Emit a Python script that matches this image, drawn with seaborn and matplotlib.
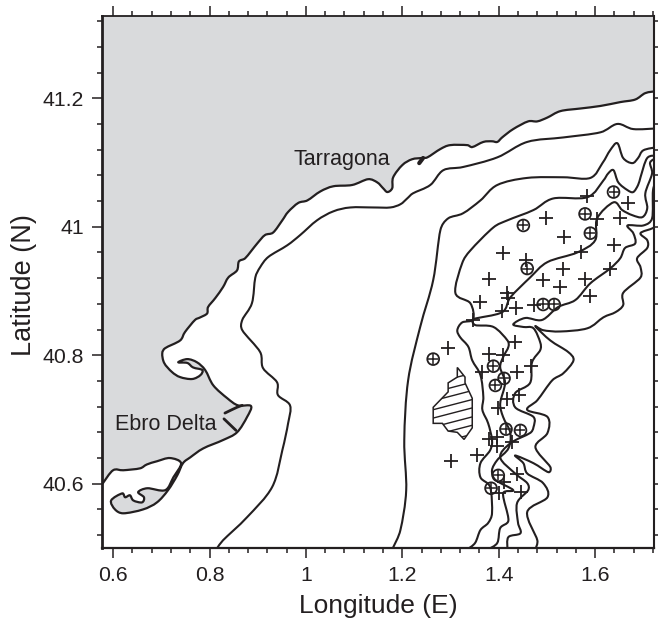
import numpy as np
import matplotlib
matplotlib.use("Agg")
import matplotlib.pyplot as plt
from matplotlib.patches import Polygon
from matplotlib.path import Path
from matplotlib.patheffects import AbstractPathEffect
from matplotlib.transforms import IdentityTransform
from matplotlib.ticker import MultipleLocator, FixedLocator, FixedFormatter
import seaborn as sns

coast_lon = [1.727,1.704,1.683,1.652,1.611,1.569,1.528,1.501,1.480,1.461,1.430,1.407,1.397,1.386,1.368,1.345,1.335,1.299,1.279,1.252,1.241,1.220,1.200,1.181,1.179,1.169,1.160,1.148,1.129,1.096,1.057,1.030,1.003,0.984,0.963,0.951,0.932,0.915,0.899,0.874,0.861,0.857,0.839,0.828,0.812,0.797,0.795,0.781,0.770,0.749,0.739,0.708,0.702,0.706,0.722,0.739,0.764,0.781,0.785,0.766,0.754,0.735,0.754,0.774,0.791,0.808,0.837,0.859,0.886,0.878,0.857,0.828,0.787,0.760,0.745,0.733,0.714,0.691,0.662,0.621,0.604,0.596,0.619,0.625,0.635,0.642,0.660,0.664,0.652,0.671,0.708,0.725,0.741,0.718,0.691,0.670,0.656,0.621,0.600,0.579]
coast_lat = [41.211,41.208,41.198,41.194,41.188,41.184,41.180,41.170,41.164,41.164,41.152,41.139,41.132,41.133,41.132,41.124,41.127,41.127,41.121,41.108,41.107,41.105,41.096,41.077,41.060,41.054,41.060,41.069,41.074,41.065,41.063,41.055,41.041,41.037,41.023,41.010,40.991,40.987,40.974,40.951,40.946,40.932,40.921,40.906,40.889,40.875,40.865,40.859,40.855,40.836,40.823,40.811,40.803,40.788,40.774,40.766,40.763,40.769,40.777,40.781,40.788,40.789,40.794,40.789,40.777,40.753,40.733,40.722,40.721,40.704,40.680,40.668,40.655,40.641,40.632,40.613,40.590,40.571,40.560,40.554,40.560,40.574,40.585,40.579,40.582,40.574,40.571,40.579,40.587,40.593,40.590,40.610,40.632,40.640,40.635,40.630,40.624,40.621,40.621,40.601]

depth1_lon = [0.816,0.828,0.878,0.930,0.951,0.963,0.967,0.942,0.940,0.911,0.905,0.868,0.868,0.888,0.895,0.905,0.922,0.961,0.988,1.023,1.057,1.092,1.140,1.175,1.196,1.210,1.222,1.258,1.285,1.326,1.397,1.459,1.534,1.611,1.646,1.679,1.727]
depth1_lat = [40.500,40.512,40.548,40.595,40.652,40.694,40.722,40.738,40.758,40.780,40.805,40.839,40.855,40.881,40.921,40.937,40.953,40.971,40.987,41.010,41.024,41.030,41.030,41.030,41.035,41.044,41.052,41.065,41.088,41.093,41.108,41.132,41.139,41.147,41.160,41.152,41.153]

depth2_lon = [1.181,1.196,1.208,1.204,1.212,1.237,1.264,1.279,1.295,1.326,1.362,1.397,1.459,1.534,1.590,1.615,1.631,1.646,1.658,1.677,1.689,1.700,1.729]
depth2_lat = [40.501,40.528,40.590,40.668,40.761,40.844,40.917,40.995,41.013,41.021,41.041,41.065,41.076,41.077,41.076,41.099,41.119,41.130,41.107,41.099,41.107,41.119,41.124]

depth3_lon = [1.335,1.351,1.362,1.378,1.386,1.382,1.362,1.362,1.382,1.386,1.378,1.366,1.368,1.362,1.345,1.337,1.320,1.314,1.324,1.347,1.341,1.310,1.324,1.341,1.389,1.418,1.472,1.513,1.584,1.617,1.627,1.638,1.648,1.667,1.679,1.689,1.694,1.708,1.729]
depth3_lat = [40.498,40.508,40.528,40.539,40.554,40.595,40.610,40.632,40.652,40.668,40.694,40.715,40.735,40.769,40.792,40.813,40.828,40.839,40.851,40.856,40.881,40.897,40.943,40.963,40.999,41.010,41.026,41.044,41.046,41.072,41.083,41.088,41.069,41.057,41.054,41.065,41.077,41.107,41.111]

depth4_lon = [1.378,1.397,1.403,1.420,1.409,1.430,1.393,1.386,1.397,1.420,1.424,1.409,1.403,1.413,1.403,1.409,1.420,1.418,1.389,1.351,1.347,1.407,1.424,1.465,1.501,1.563,1.600,1.604,1.638,1.656,1.677,1.698,1.708,1.704,1.718,1.714,1.729]
depth4_lat = [40.498,40.508,40.531,40.543,40.585,40.590,40.606,40.621,40.637,40.655,40.679,40.704,40.725,40.757,40.781,40.797,40.813,40.823,40.844,40.847,40.856,40.867,40.890,40.921,40.945,40.960,40.979,41.013,41.038,41.026,41.018,41.015,41.029,41.052,41.083,41.100,41.108]

depth5_lon = [1.418,1.420,1.445,1.440,1.438,1.461,1.459,1.434,1.403,1.424,1.465,1.472,1.472,1.434,1.434,1.465,1.469,1.486,1.486,1.472,1.451,1.430,1.455,1.490,1.523,1.559,1.590,1.631,1.652,1.662,1.683,1.679,1.667,1.700,1.718,1.720,1.729]
depth5_lat = [40.498,40.517,40.523,40.539,40.570,40.590,40.601,40.616,40.641,40.663,40.679,40.688,40.704,40.719,40.741,40.757,40.789,40.808,40.820,40.842,40.844,40.848,40.858,40.855,40.875,40.886,40.912,40.935,40.951,40.967,40.974,40.990,41.002,41.002,41.013,41.057,41.077]

depth6_lon = [1.476,1.480,1.459,1.501,1.492,1.459,1.451,1.434,1.472,1.503,1.507,1.476,1.501,1.501,1.459,1.480,1.511,1.534,1.555,1.544,1.507,1.476,1.492,1.528,1.584,1.617,1.642,1.658,1.658,1.694,1.694,1.687,1.708,1.708,1.694,1.720,1.729]
depth6_lat = [40.498,40.512,40.556,40.579,40.601,40.616,40.632,40.644,40.632,40.618,40.626,40.657,40.679,40.704,40.715,40.730,40.761,40.772,40.792,40.805,40.823,40.845,40.839,40.837,40.842,40.859,40.867,40.878,40.897,40.921,40.937,40.951,40.967,40.979,40.990,40.998,41.005]

river_north_lon = [0.832,0.857,0.868]
river_north_lat = [40.710,40.719,40.722]
river_south_lon = [0.830,0.855]
river_south_lat = [40.701,40.683]
harbour_lon = [1.235,1.243]
harbour_lat = [41.099,41.107]

zone_lon = [1.314,1.330,1.330,1.345,1.345,1.328,1.314,1.295,1.283,1.264,1.264,1.295,1.295,1.314]
zone_lat = [40.781,40.766,40.757,40.733,40.687,40.669,40.680,40.682,40.694,40.694,40.719,40.743,40.757,40.766]
zone_hatch_lat = [40.766,40.752,40.739,40.725,40.712,40.698,40.685,40.671]

plus_lon = [1.584,1.669,1.652,1.604,1.498,1.536,1.638,1.409,1.457,1.571,1.534,1.631,1.380,1.492,1.528,1.579,1.590,1.418,1.420,1.362,1.436,1.407,1.474,1.347,1.295,1.434,1.380,1.409,1.366,1.438,1.467,1.442,1.418,1.399,1.397,1.380,1.397,1.428,1.355,1.301,1.438,1.411,1.447,1.401]
plus_lat = [41.048,41.037,41.013,41.012,41.013,40.984,40.971,40.959,40.949,40.960,40.934,40.935,40.918,40.917,40.906,40.918,40.892,40.897,40.889,40.883,40.873,40.869,40.878,40.855,40.811,40.820,40.802,40.800,40.774,40.774,40.783,40.738,40.732,40.718,40.673,40.669,40.659,40.665,40.645,40.635,40.615,40.602,40.587,40.585]

circle_lon = [1.638,1.579,1.590,1.451,1.459,1.492,1.515,1.264,1.389,1.411,1.393,1.415,1.445,1.399,1.384]
circle_lat = [41.054,41.020,40.990,41.002,40.935,40.879,40.879,40.794,40.783,40.764,40.753,40.685,40.683,40.613,40.593]

x_major = [0.6, 0.8, 1.0, 1.2, 1.4, 1.6]
x_labels = ["0.6", "0.8", "1", "1.2", "1.4", "1.6"]
y_major = [40.6, 40.8, 41.0, 41.2]
y_labels = ["40.6", "40.8", "41", "41.2"]
x_limits = (0.577, 1.722)
y_limits = (40.5, 41.328)

INK = "#231f20"
LAND = "#d9dadc"


class RoundedVertices(AbstractPathEffect):
    """Render a line through its own vertices with curved instead of straight joins."""

    def draw_path(self, renderer, gc, tpath, affine, rgbFace=None):
        p = affine.transform(tpath.vertices)
        if len(p) < 3:
            renderer.draw_path(gc, tpath, affine, rgbFace)
            return
        verts, codes = [p[0]], [Path.MOVETO]
        for i in range(len(p) - 1):
            prev_pt = p[max(i - 1, 0)]
            next_pt = p[min(i + 2, len(p) - 1)]
            seg = np.linalg.norm(p[i + 1] - p[i])
            t1 = (p[i + 1] - prev_pt) / 6
            t2 = (next_pt - p[i]) / 6
            t1 *= min(1.0, 0.4 * seg / (np.linalg.norm(t1) + 1e-9))
            t2 *= min(1.0, 0.4 * seg / (np.linalg.norm(t2) + 1e-9))
            verts += [p[i] + t1, p[i + 1] - t2, p[i + 1]]
            codes += [Path.CURVE4] * 3
        renderer.draw_path(gc, Path(np.array(verts), codes), IdentityTransform(), rgbFace)


sns.set_theme(style="ticks")
plt.rcParams["font.family"] = ["Liberation Sans", "DejaVu Sans"]

fig = plt.figure(figsize=(6.58, 6.19), dpi=100)
ax = fig.add_axes([102/658, (619-548)/619, 552/658, 532/619])
ax.set_xlim(*x_limits)
ax.set_ylim(*y_limits)

land_xy = list(zip(coast_lon, coast_lat)) + [(x_limits[0], coast_lat[-1]), (x_limits[0], y_limits[1]),
                                             (x_limits[1] + 0.01, y_limits[1]), (x_limits[1] + 0.01, coast_lat[0])]
ax.add_patch(Polygon(land_xy, closed=True, facecolor=LAND, edgecolor="none", zorder=1))


def trace(lon, lat, lw=1.5):
    before = len(ax.lines)
    sns.lineplot(x=lon, y=lat, sort=False, estimator=None, color=INK, linewidth=lw, ax=ax, zorder=3,
                 legend=False, solid_joinstyle="round", solid_capstyle="round")
    for line in ax.lines[before:]:
        line.set_path_effects([RoundedVertices()])


trace(coast_lon, coast_lat, 1.6)
for lon, lat in [(depth1_lon, depth1_lat), (depth2_lon, depth2_lat), (depth3_lon, depth3_lat),
                 (depth4_lon, depth4_lat), (depth5_lon, depth5_lat), (depth6_lon, depth6_lat)]:
    trace(lon, lat)
trace(river_north_lon, river_north_lat, 2.0)
trace(river_south_lon, river_south_lat, 2.0)
trace(harbour_lon, harbour_lat, 3.0)

zone = Polygon(list(zip(zone_lon, zone_lat)), closed=True, facecolor="white", edgecolor=INK, linewidth=1.1, zorder=3)
ax.add_patch(zone)
span = np.array([min(zone_lon) - 0.01, max(zone_lon) + 0.01])
for lat0 in zone_hatch_lat:
    line, = ax.plot(span, lat0 + 0.195 * (span - zone_lon[0]), color=INK, linewidth=1.0, zorder=3)
    line.set_clip_path(zone)

sns.scatterplot(x=plus_lon, y=plus_lat, marker="+", s=105, color=INK, linewidth=1.3, ax=ax, zorder=4, legend=False)
sns.scatterplot(x=circle_lon, y=circle_lat, marker="o", s=72, facecolor="none", edgecolor=INK, linewidth=1.3, ax=ax, zorder=4, legend=False)
sns.scatterplot(x=circle_lon, y=circle_lat, marker="+", s=50, color=INK, linewidth=1.1, ax=ax, zorder=4, legend=False)

ax.text(0.975, 41.104, "Tarragona", fontsize=15.5, color=INK, va="center", ha="left", zorder=5)
ax.text(0.604, 40.692, "Ebro Delta", fontsize=15.5, color=INK, va="center", ha="left", zorder=5)

ax.xaxis.set_major_locator(FixedLocator(x_major))
ax.xaxis.set_major_formatter(FixedFormatter(x_labels))
ax.yaxis.set_major_locator(FixedLocator(y_major))
ax.yaxis.set_major_formatter(FixedFormatter(y_labels))
ax.xaxis.set_minor_locator(MultipleLocator(0.04))
ax.yaxis.set_minor_locator(MultipleLocator(0.04))
ax.tick_params(which="major", direction="out", length=7.2, width=1.1, color=INK, labelcolor=INK,
               labelsize=15.3, top=True, right=True)
ax.tick_params(axis="x", which="major", pad=6)
ax.tick_params(axis="y", which="major", pad=6)
ax.tick_params(which="minor", direction="out", length=3.6, width=1.1, color=INK, top=True, right=True)

for side, w in [("left", 2.0), ("bottom", 1.6), ("top", 1.3), ("right", 1.5)]:
    ax.spines[side].set_visible(True)
    ax.spines[side].set_linewidth(w)
    ax.spines[side].set_color(INK)
    ax.spines[side].set_zorder(6)

fig.text(378/658, 1 - 606/619, "Longitude (E)", fontsize=19, color=INK, ha="center", va="center")
fig.text(24/658, 1 - 285/619, "Latitude (N)", fontsize=19.5, color=INK, ha="center", va="center", rotation=90)

fig.savefig("out.png", dpi=100)
